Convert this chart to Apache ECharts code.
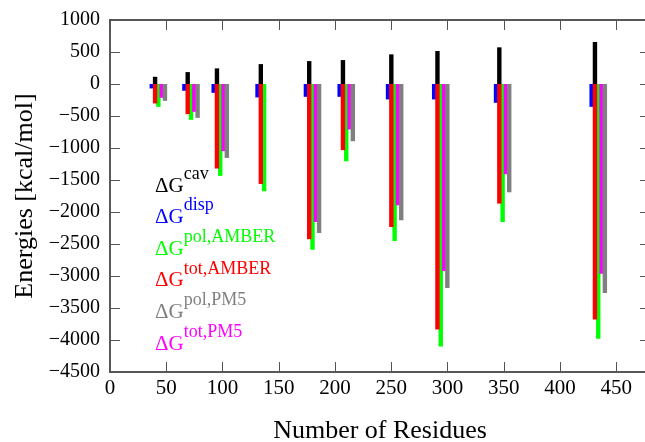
<!DOCTYPE html>
<html>
<head>
<meta charset="utf-8">
<title>Solvation energies</title>
<script src="https://cdn.jsdelivr.net/npm/echarts@6/dist/echarts.min.js"></script>
</head>
<body style="margin:0">
<div id="main" style="width:645px;height:442px;"></div>
<script>
// residues per protein (x position of each bar group)
var residues = [43, 72, 98, 137, 180, 210, 253, 294, 349, 434];
var cav      = [113, 186, 244, 311, 358, 374, 463, 515, 573, 656];
var disp     = [-69, -106, -138, -210, -200, -200, -241, -241, -294, -357];
var polAmber = [-357, -560, -1436, -1676, -2589, -1207, -2453, -4102, -2156, -3981];
var totAmber = [-304, -471, -1321, -1562, -2427, -1034, -2234, -3836, -1869, -3679];
var polPm5   = [-263, -529, -1155, '-', -2329, -894, -2130, -3189, -1692, -3267];
var totPm5   = [-216, -435, -1050, '-', -2156, -711, -1895, -2923, -1410, -2964];

var font = 'Liberation Serif';

function pair(vals) {
	return residues.map(function (r, i) { return [r, vals[i]]; });
}

function bar(name, vals, color, stack, z) {
	return {
		name: name,
		type: 'bar',
		data: pair(vals),
		stack: stack,
		z: z,
		barWidth: 4.4,
		barGap: '-25%',
		itemStyle: {color: color},
		emphasis: {disabled: true}
	};
}

var legendNames = ['cav', 'disp', 'pol,AMBER', 'tot,AMBER', 'pol,PM5', 'tot,PM5'];
var legendColors = ['#000000', '#0000ff', '#00ff00', '#ff0000', '#808080', '#ff00ff'];

function frameAxis(pos, extra) {
	var ax = {
		type: 'value',
		position: pos,
		axisLine: {show: true, onZero: false, lineStyle: {color: '#222', width: 1.5}},
		axisTick: {show: true, inside: true, length: 10, lineStyle: {color: '#555'}},
		splitLine: {show: false}
	};
	for (var k in extra) ax[k] = extra[k];
	return ax;
}

var myChart = echarts.init(document.getElementById('main'));
var option = {
	animation: false,
	grid: {left: 110, top: 20, width: 540, height: 352, containLabel: false, outerBoundsMode: 'none'},
	legend: {
		orient: 'vertical',
		left: 150,
		top: 165,
		padding: 0,
		itemGap: 0,
		itemWidth: 0,
		itemHeight: 0,
		icon: 'none',
		selectedMode: false,
		data: legendNames.map(function (n, i) {
			return {name: n, textStyle: {color: legendColors[i]}};
		}),
		formatter: function (n) { return '{d|\u0394G}{s|' + n + '}'; },
		textStyle: {
			fontFamily: font,
			rich: {
				d: {fontSize: 21, lineHeight: 31.6, verticalAlign: 'bottom', fontFamily: font},
				s: {fontSize: 18, lineHeight: 12, verticalAlign: 'top', fontFamily: font}
			}
		}
	},
	xAxis: [
		frameAxis('bottom', {
			min: 0, max: 480, interval: 50,
			name: 'Number of Residues', nameLocation: 'middle', nameGap: 46,
			nameTextStyle: {fontSize: 26, fontFamily: font, color: '#000'},
			axisLabel: {fontSize: 21, fontFamily: font, color: '#000', margin: 6, showMaxLabel: false}
		}),
		frameAxis('top', {min: 0, max: 480, interval: 50, axisLabel: {show: false}})
	],
	yAxis: [
		frameAxis('left', {
			min: -4500, max: 1000, interval: 500,
			name: 'Energies [kcal/mol]', nameLocation: 'middle', nameGap: 72,
			nameTextStyle: {fontSize: 26, fontFamily: font, color: '#000'},
			axisLabel: {
				fontSize: 20, fontFamily: font, color: '#000', margin: 10,
				formatter: function (v) { return String(v).replace('-', '\u2212'); }
			}
		}),
		frameAxis('right', {min: -4500, max: 1000, interval: 500, axisLabel: {show: false}})
	],
	series: [
		bar('disp', disp, '#0000ff', null, 3),
		bar('cav', cav, '#000000', 'tot', 3),
		bar('tot,AMBER', totAmber, '#ff0000', 'tot', 3),
		bar('pol,AMBER', polAmber, '#00ff00', null, 2),
		bar('tot,PM5', totPm5, '#ff00ff', null, 2),
		bar('pol,PM5', polPm5, '#808080', null, 2)
	]
};
myChart.setOption(option);
</script>
</body>
</html>
